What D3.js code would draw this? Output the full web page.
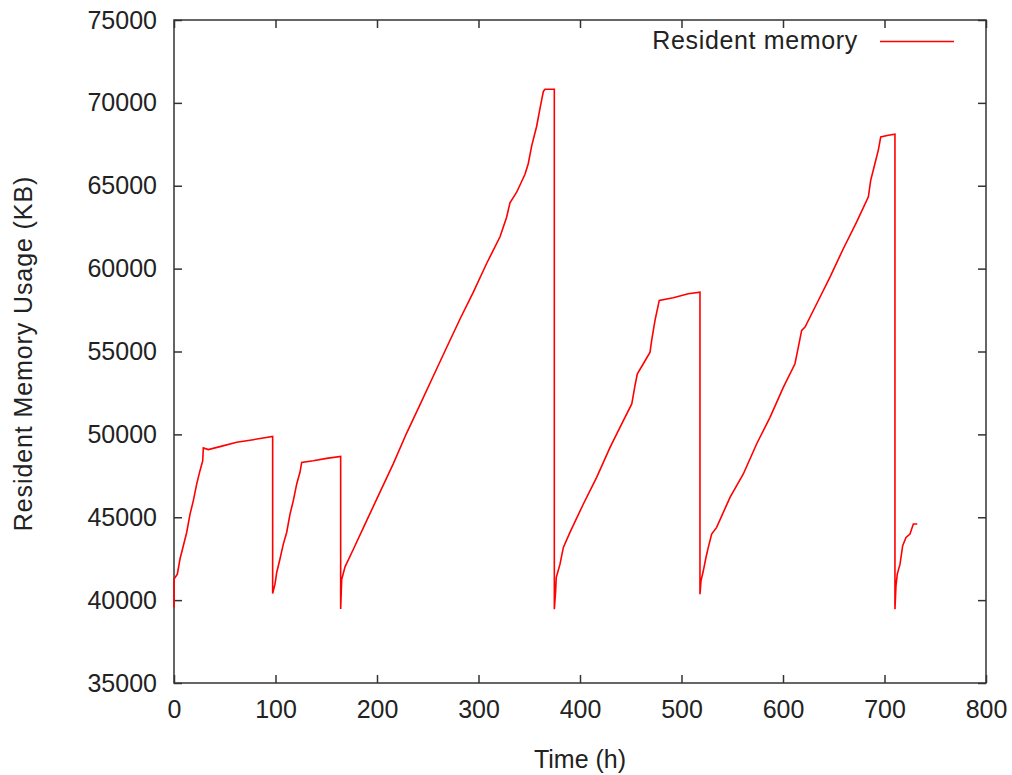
<!DOCTYPE html>
<html>
<head>
<meta charset="utf-8">
<script src="https://cdn.jsdelivr.net/npm/d3@7"></script>
<style>
  html, body { margin: 0; padding: 0; background: #fff; }
  svg text { font-family: "Liberation Sans", Arial, sans-serif; fill: #222; }
</style>
</head>
<body>
<svg id="chart" width="1012" height="775"></svg>
<script>
// Resident memory samples: elapsed time in hours and RSS in KB
const hours = [
  0, 0, 3.3, 5.9, 9.2, 12.5, 15.8, 19, 22.4, 25.6, 28.3, 28.9, 33.8, 45.3, 61.8, 78.1, 97.2,
  97.2, 99.5, 101.2, 104.4, 107.7, 111, 114.3, 117.5, 120.9, 124.1, 125.8, 137.2, 150.4, 164.2,
  164.2, 165.2, 168.5, 176.7, 188.2, 199.7, 216.1, 229.2, 242.4, 255.5, 268.6, 281.8, 294.9,
  308, 321.2, 327.7, 331, 337.6, 345.8, 349, 352.4, 357.3, 360.6, 363.9, 365.5, 374.7,
  374.7, 376, 376.6, 380.3, 383.6, 390.1, 403.3, 416.4, 429.6, 442.7, 451, 454.2, 456.5,
  462.4, 469, 470.6, 473.9, 478.1, 491.9, 506.7, 518.2,
  518.2, 519.2, 521.5, 524.1, 526.4, 529.7, 534.6, 547.8, 560.9, 574, 587.2, 600.3, 611.8,
  615.1, 618.4, 621.7, 633.2, 646.3, 659.4, 672.6, 684.1, 686.4, 690.6, 693.9, 696.3, 703.8, 710.3,
  710.3, 711.3, 712.6, 715.3, 717.9, 721.2, 725.1, 728.4, 732.3
];
const residentKB = [
  39550, 41270, 41570, 42480, 43280, 44080, 45190, 45990, 47010, 47810, 48410, 49180, 49080, 49260, 49520, 49680, 49880,
  40400, 40960, 41670, 42480, 43380, 44080, 45190, 45990, 47010, 47710, 48310, 48410, 48550, 48670,
  39470, 41240, 42010, 43070, 44580, 46090, 48240, 50080, 51800, 53520, 55240, 56960, 58580,
  60310, 61920, 63100, 63970, 64610, 65690, 66330, 67410, 68590, 69670, 70690, 70820, 70820,
  39450, 40560, 41360, 42170, 43180, 44090, 45800, 47410, 49220, 50830, 51840, 52950, 53650,
  54260, 54960, 55670, 56880, 58080, 58240, 58480, 58580,
  40360, 41160, 41770, 42570, 43180, 43990, 44390, 46200, 47610, 49420, 51030, 52840, 54260,
  55260, 56270, 56470, 57880, 59490, 61200, 62820, 64330, 65330, 66340, 67150, 67950, 68050, 68110,
  39450, 40860, 41570, 42170, 43280, 43780, 43990, 44590, 44590
];

const xTicks = [0, 100, 200, 300, 400, 500, 600, 700, 800];
const yTicks = [35000, 40000, 45000, 50000, 55000, 60000, 65000, 70000, 75000];
const seriesName = "Resident memory";
const xTitle = "Time (h)";
const yTitle = "Resident Memory Usage (KB)";

const svg = d3.select("#chart");
const margin = { left: 174, right: 26, top: 20, bottom: 92 };
const W = 1012, H = 775;
const x0 = margin.left, x1 = W - margin.right;
const y0 = H - margin.bottom, y1 = margin.top;

const x = d3.scaleLinear().domain([0, 800]).range([x0, x1]);
const y = d3.scaleLinear().domain([35000, 75000]).range([y0, y1]);

const fontSize = 25;
const tickLen = 8;
const axisColor = "#333";

function styleAxis(g) {
  g.select(".domain").remove();
  g.selectAll(".tick line").attr("stroke", axisColor).attr("stroke-width", 1.5);
  g.selectAll(".tick text")
    .attr("font-size", fontSize)
    .attr("font-family", "Liberation Sans, Arial, sans-serif")
    .attr("fill", "#222");
}

// Bottom axis with labels, ticks pointing into the plot
svg.append("g")
  .attr("transform", `translate(0,${y0})`)
  .call(d3.axisBottom(x).tickValues(xTicks).tickSizeInner(-tickLen).tickSizeOuter(0).tickPadding(17))
  .call(styleAxis);

// Mirrored top ticks
svg.append("g")
  .attr("transform", `translate(0,${y1})`)
  .call(d3.axisTop(x).tickValues(xTicks).tickSizeInner(-tickLen).tickSizeOuter(0).tickFormat(""))
  .call(styleAxis);

// Left axis with labels
svg.append("g")
  .attr("transform", `translate(${x0},0)`)
  .call(d3.axisLeft(y).tickValues(yTicks).tickSizeInner(-tickLen).tickSizeOuter(0).tickPadding(17).tickFormat(d3.format("d")))
  .call(styleAxis);

// Mirrored right ticks
svg.append("g")
  .attr("transform", `translate(${x1},0)`)
  .call(d3.axisRight(y).tickValues(yTicks).tickSizeInner(-tickLen).tickSizeOuter(0).tickFormat(""))
  .call(styleAxis);

// Plot border
svg.append("rect")
  .attr("x", x0).attr("y", y1)
  .attr("width", x1 - x0).attr("height", y0 - y1)
  .attr("fill", "none")
  .attr("stroke", axisColor)
  .attr("stroke-width", 1.5);

// Memory trace
const points = hours.map((h, i) => [h, residentKB[i]]);
const line = d3.line().x(d => x(d[0])).y(d => y(d[1]));
svg.append("path")
  .datum(points)
  .attr("d", line)
  .attr("fill", "none")
  .attr("stroke", "#ff0000")
  .attr("stroke-width", 1.6)
  .attr("stroke-linejoin", "miter");

// Legend
svg.append("text")
  .attr("x", 858).attr("y", 49)
  .attr("text-anchor", "end")
  .attr("font-size", fontSize)
  .attr("letter-spacing", 0.65)
  .text(seriesName);
svg.append("line")
  .attr("x1", 880).attr("x2", 954)
  .attr("y1", 41.5).attr("y2", 41.5)
  .attr("stroke", "#ff0000")
  .attr("stroke-width", 1.6);

// Axis titles
svg.append("text")
  .attr("x", (x0 + x1) / 2).attr("y", 768)
  .attr("text-anchor", "middle")
  .attr("font-size", fontSize)
  .text(xTitle);
svg.append("text")
  .attr("transform", `translate(32,${(y0 + y1) / 2 + 2}) rotate(-90)`)
  .attr("text-anchor", "middle")
  .attr("font-size", fontSize)
  .attr("letter-spacing", 0.9)
  .text(yTitle);
</script>
</body>
</html>
